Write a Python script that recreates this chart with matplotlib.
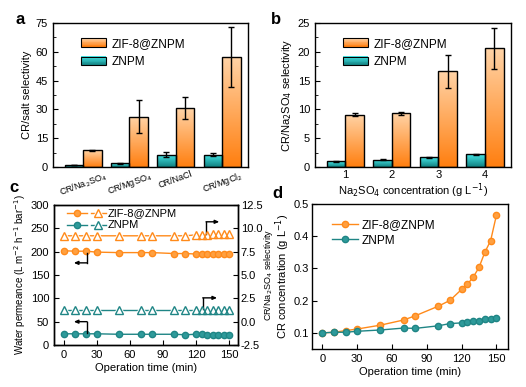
import numpy as np
import matplotlib
matplotlib.use('Agg')
import matplotlib.pyplot as plt
import matplotlib.transforms as mtrans
from matplotlib.colors import LinearSegmentedColormap
from matplotlib.patches import Rectangle
from matplotlib.legend_handler import HandlerBase

plt.rcParams['font.family'] = ['Liberation Sans', 'DejaVu Sans']
plt.rcParams['font.size'] = 8
plt.rcParams['xtick.direction'] = 'in'
plt.rcParams['ytick.direction'] = 'in'
plt.rcParams['axes.linewidth'] = 1.0

# ---- data ----
salts = ['CR/Na$_2$SO$_4$', 'CR/MgSO$_4$', 'CR/NaCl', 'CR/MgCl$_2$']
a_znpm = [1.0, 2.0, 6.5, 6.3]
a_znpm_err = [0.2, 0.2, 1.5, 0.8]
a_zif = [8.7, 26.3, 30.6, 57.3]
a_zif_err = [0.3, 8.8, 5.6, 15.8]

conc = ['1', '2', '3', '4']
b_znpm = [1.0, 1.3, 1.7, 2.2]
b_znpm_err = [0.1, 0.05, 0.1, 0.1]
b_zif = [9.1, 9.3, 16.6, 20.6]
b_zif_err = [0.3, 0.3, 2.8, 3.5]

t = [0, 10, 20, 30, 50, 70, 80, 100, 110, 120, 125, 130, 135, 140, 145, 150]
perm_zif = [202, 201, 201, 199, 198, 198, 198, 196, 196, 195, 195, 195, 194, 194, 194, 194]
perm_znpm = [24, 24, 24, 24, 23, 23, 23, 23, 22, 23, 23, 22, 22, 21, 21, 21]
sel_zif = [9.2, 9.2, 9.2, 9.2, 9.2, 9.2, 9.2, 9.2, 9.2, 9.3, 9.3, 9.3, 9.4, 9.4, 9.4, 9.4]
sel_znpm = [1.3] * 16

cr_zif = [0.100, 0.102, 0.107, 0.112, 0.124, 0.140, 0.153, 0.183, 0.201, 0.235,
          0.251, 0.273, 0.303, 0.350, 0.386, 0.465]
cr_znpm = [0.100, 0.102, 0.102, 0.105, 0.109, 0.115, 0.114, 0.122, 0.129, 0.131,
           0.134, 0.137, 0.137, 0.143, 0.143, 0.145]

orange = '#FF8A1A'
orange_fc = '#FFA040'
teal = '#1F8585'
teal_fc = '#2E9A9A'
cm_or = LinearSegmentedColormap.from_list('or', ['#FF7F10', '#FFD3A6'])
cm_te = LinearSegmentedColormap.from_list('te', ['#128080', '#45E6E6'])

W, H = 526, 387
fig = plt.figure(figsize=(W / 100, H / 100), dpi=100)


def ax_at(l, t_, r, b):
    return fig.add_axes([l / W, 1 - b / H, (r - l) / W, (b - t_) / H])


def grad_bars(ax, x, h, err, cmap):
    bars = ax.bar(x, h, 0.4, facecolor='none', edgecolor='black', linewidth=1.0, zorder=3)
    grad = np.linspace(0, 1, 100).reshape(-1, 1)
    for bar in bars:
        bx, by = bar.get_x(), bar.get_y()
        bw, bh = bar.get_width(), bar.get_height()
        im = ax.imshow(grad, cmap=cmap, origin='lower', aspect='auto',
                       extent=[bx, bx + bw, by, by + bh], zorder=2)
        im.set_clip_path(bar)
    ax.errorbar(x, h, yerr=err, fmt='none', ecolor='black', elinewidth=1.0,
                capsize=2.5, capthick=1.0, zorder=4)


class GradHandler(HandlerBase):
    def __init__(self, cmap):
        super().__init__()
        self.cmap = cmap

    def create_artists(self, legend, orig, xd, yd, w, h, fontsize, trans):
        arts = []
        n = 12
        for i in range(n):
            arts.append(Rectangle((xd, yd + h * i / n), w, h / n + 0.2,
                                  facecolor=self.cmap(i / (n - 1)), edgecolor='none',
                                  transform=trans))
        arts.append(Rectangle((xd, yd), w, h, facecolor='none',
                              edgecolor='black', lw=0.8, transform=trans))
        return arts


def bar_legend(ax):
    h1 = Rectangle((0, 0), 1, 1)
    h2 = Rectangle((0, 0), 1, 1)
    ax.legend([h1, h2], ['ZIF-8@ZNPM', 'ZNPM'], loc='upper left',
              bbox_to_anchor=(0.09, 0.97), frameon=False, handlelength=2.1,
              handleheight=0.75, handletextpad=0.5, labelspacing=0.55, fontsize=8.5,
              handler_map={h1: GradHandler(cm_or), h2: GradHandler(cm_te)})


# ---- panel a ----
axa = ax_at(53, 23, 248, 167)
xa = np.arange(4)
grad_bars(axa, xa - 0.2, a_znpm, a_znpm_err, cm_te)
grad_bars(axa, xa + 0.2, a_zif, a_zif_err, cm_or)
axa.set_xlim(-0.65, 3.56)
axa.set_ylim(0, 75)
axa.set_yticks(np.arange(0, 76, 15))
axa.set_yticks(np.arange(0, 76, 7.5), minor=True)
axa.set_xticks(xa)
axa.set_xticklabels(salts, rotation=20, ha='center', fontsize=6.5)
shift = mtrans.ScaledTranslation(-6 / 100, 0, fig.dpi_scale_trans)
for lab in axa.get_xticklabels():
    lab.set_transform(lab.get_transform() + shift)
axa.tick_params(axis='x', length=0, pad=2)
axa.set_ylabel('CR/salt selectivity', labelpad=3)
bar_legend(axa)

# ---- panel b ----
axb = ax_at(315, 23, 511, 167)
xb = np.arange(4)
grad_bars(axb, xb - 0.2, b_znpm, b_znpm_err, cm_te)
grad_bars(axb, xb + 0.2, b_zif, b_zif_err, cm_or)
axb.set_xlim(-0.65, 3.56)
axb.set_ylim(0, 25)
axb.set_yticks(np.arange(0, 26, 5))
axb.set_yticks(np.arange(0, 26, 2.5), minor=True)
axb.set_xticks(xb)
axb.set_xticklabels(conc)
axb.tick_params(axis='x', pad=2)
axb.set_xlabel('Na$_2$SO$_4$ concentration (g L$^{-1}$)', labelpad=1)
axb.set_ylabel('CR/Na$_2$SO$_4$ selectivity', labelpad=3)
bar_legend(axb)

# ---- panel c ----
axc = ax_at(54, 205, 238, 345)
axc2 = axc.twinx()
ms = 4.5
axc.plot(t, perm_zif, '-o', color=orange, mfc=orange_fc, mec=orange, ms=ms, lw=1.0)
axc.plot(t, perm_znpm, '-o', color=teal, mfc=teal_fc, mec=teal, ms=ms, lw=1.0)
for y, c in ((sel_zif, orange), (sel_znpm, teal)):
    axc2.plot(t, y, '-', color=c, lw=1.0, zorder=1)
    axc2.plot(t, y, '^', color='white', ms=8, zorder=2)
    axc2.plot(t, y, '^', mfc='none', mec=c, ms=5.5, mew=1.0, zorder=3)
axc.set_xlim(-9, 158)
axc.set_ylim(0, 300)
axc.set_yticks(np.arange(0, 301, 50))
axc.set_xticks(np.arange(0, 151, 30))
axc2.set_ylim(-2.5, 12.5)
axc2.set_yticks(np.arange(-2.5, 12.6, 2.5))
axc2.set_yticklabels(['-2.5', '0.0', '2.5', '5.0', '7.5', '10.0', '12.5'])
axc2.tick_params(direction='in', pad=2)
axc.set_xlabel('Operation time (min)', labelpad=2)
axc.set_ylabel('Water permeance (L m$^{-2}$ h$^{-1}$ bar$^{-1}$)', labelpad=2, fontsize=7)
axc2.set_ylabel('CR/Na$_2$SO$_4$ selectivity', labelpad=0, fontsize=6.5)
axc.set_zorder(axc2.get_zorder() + 1)
axc.patch.set_visible(False)

# L-shaped arrows
arr = dict(arrowstyle='-|>,head_length=0.3,head_width=0.13', color='black', lw=1.0,
           shrinkA=0, shrinkB=0)
axc.plot([21, 21], [198, 176], color='black', lw=1.0)
axc.annotate('', xy=(9, 176), xytext=(21, 176), arrowprops=arr)
axc.plot([21, 21], [25, 50], color='black', lw=1.0)
axc.annotate('', xy=(9, 50), xytext=(21, 50), arrowprops=arr)
axc2.plot([129, 129], [9.4, 10.7], color='black', lw=1.0)
axc2.annotate('', xy=(141, 10.7), xytext=(129, 10.7), arrowprops=arr)
axc2.plot([126, 126], [1.4, 2.55], color='black', lw=1.0)
axc2.annotate('', xy=(139, 2.55), xytext=(126, 2.55), arrowprops=arr)

# legend c (drawn by hand, axes fraction)
for row, (c, fc, lab) in enumerate(((orange, orange_fc, 'ZIF-8@ZNPM'),
                                     (teal, teal_fc, 'ZNPM'))):
    yy = 0.945 - row * 0.085
    lx = [0.07, 0.18]
    axc.plot(lx, [yy, yy], color=c, lw=1.0, transform=axc.transAxes)
    axc.plot([np.mean(lx)], [yy], 'o', color=c, mfc=fc, ms=ms, transform=axc.transAxes)
    lx2 = [0.20, 0.28]
    axc.plot(lx2, [yy, yy], color=c, lw=1.0, transform=axc.transAxes)
    axc.plot([np.mean(lx2)], [yy], '^', color='white', ms=8, transform=axc.transAxes)
    axc.plot([np.mean(lx2)], [yy], '^', mfc='none', mec=c, ms=5.5, transform=axc.transAxes)
    axc.text(0.29, yy, lab, transform=axc.transAxes, va='center', fontsize=8)

# ---- panel d ----
axd = ax_at(312, 204, 508, 349)
axd.plot(t, cr_zif, '-o', color=orange, mfc=orange_fc, mec=orange, ms=ms, lw=1.0,
         label='ZIF-8@ZNPM')
axd.plot(t, cr_znpm, '-o', color=teal, mfc=teal_fc, mec=teal, ms=ms, lw=1.0,
         label='ZNPM')
axd.set_xlim(-9, 160)
axd.set_ylim(0.05, 0.5)
axd.set_yticks([0.1, 0.2, 0.3, 0.4, 0.5])
axd.set_xticks(np.arange(0, 151, 30))
axd.tick_params(axis='y', pad=2)
axd.set_xlabel('Operation time (min)', labelpad=2)
axd.set_ylabel('CR concentration (g L$^{-1}$)', labelpad=1)
axd.legend(loc='upper left', bbox_to_anchor=(0.05, 0.97), frameon=False,
           handlelength=2.2, handletextpad=0.3, labelspacing=0.3, fontsize=8.5)

for lab, (x, y) in zip('abcd', [(20, 20), (276, 20), (14, 187), (277, 193)]):
    fig.text(x / W, 1 - y / H, lab, fontsize=12, fontweight='bold', ha='center', va='center')

fig.savefig('out.png', dpi=100)
